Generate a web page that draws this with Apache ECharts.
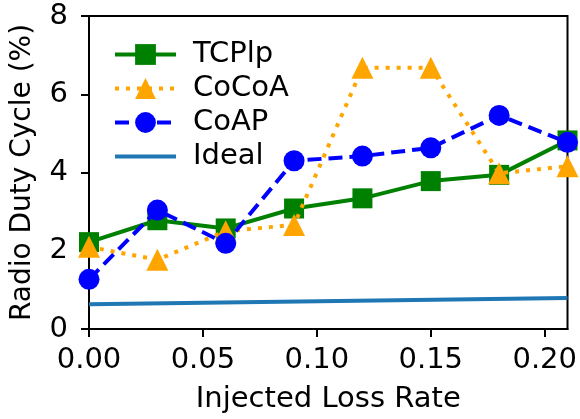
<!DOCTYPE html>
<html>
<head>
<meta charset="utf-8">
<script src="https://cdn.jsdelivr.net/npm/echarts@6/dist/echarts.min.js"></script>
<style>
  html, body { margin: 0; padding: 0; background: #fff; }
  #chart { width: 580px; height: 419px; }
</style>
</head>
<body>
<div id="chart"></div>
<script>
// injected loss rate
const lossRate = [0, 0.03, 0.06, 0.09, 0.12, 0.15, 0.18, 0.21];
const tcplp = [2.22, 2.78, 2.57, 3.08, 3.34, 3.78, 3.94, 4.82];
const cocoa = [2.1, 1.77, 2.5, 2.66, 6.68, 6.68, 3.98, 4.16];
const coap = [1.27, 3.04, 2.19, 4.3, 4.42, 4.63, 5.46, 4.77];
const idealX = [0, 0.21];
const ideal = [0.63, 0.79];
const xTicks = [0, 0.05, 0.1, 0.15, 0.2];

const pairs = (xs, ys) => xs.map((x, i) => [x, ys[i]]);
const font = "DejaVu Sans";

let chart = echarts.init(document.getElementById("chart"));
chart.setOption({
  animation: false,
  textStyle: { fontFamily: font },
  grid: {
    left: 89, right: 8, top: 16, bottom: 90,
    show: true, borderColor: "#000", borderWidth: 2
  },
  legend: {
    left: 113, top: 40, padding: 0,
    orient: "vertical",
    itemWidth: 61, itemHeight: 26, itemGap: 5,
    lineStyle: { width: 4 },
    textStyle: { fontSize: 29, lineHeight: 26, color: "#000", fontFamily: font, padding: [0, 0, 0, 12] },
    data: ["TCPlp", "CoCoA", "CoAP", { name: "Ideal", itemStyle: { opacity: 0 } }]
  },
  xAxis: {
    type: "value",
    min: 0, max: 0.21,
    name: "Injected Loss Rate",
    nameLocation: "middle",
    nameGap: 56,
    nameTextStyle: { fontSize: 29, color: "#000", fontFamily: font },
    axisLine: { show: true, lineStyle: { color: "#000", width: 2 } },
    axisTick: { show: true, length: 8, lineStyle: { color: "#000", width: 2 }, customValues: xTicks },
    axisLabel: {
      fontSize: 29, color: "#000", margin: 17, customValues: xTicks,
      formatter: v => v.toFixed(2)
    },
    splitLine: { show: false }
  },
  yAxis: {
    type: "value",
    min: 0, max: 8, interval: 2,
    name: "Radio Duty Cycle (%)",
    nameLocation: "middle",
    nameGap: 52,
    nameTextStyle: { fontSize: 28, color: "#000", fontFamily: font },
    axisLine: { show: true, lineStyle: { color: "#000", width: 2 } },
    axisTick: { show: true, length: 8, lineStyle: { color: "#000", width: 2 } },
    axisLabel: { fontSize: 29, color: "#000", margin: 21 },
    splitLine: { show: false }
  },
  series: [
    {
      name: "TCPlp",
      type: "line",
      data: pairs(lossRate, tcplp),
      symbol: "rect",
      symbolSize: 20,
      itemStyle: { color: "#008000" },
      lineStyle: { color: "#008000", width: 4 },
      z: 3
    },
    {
      name: "CoCoA",
      type: "line",
      data: pairs(lossRate, cocoa),
      symbol: "triangle",
      symbolSize: 22,
      itemStyle: { color: "#ffa500" },
      lineStyle: { color: "#ffa500", width: 4, type: [4, 7] },
      z: 4
    },
    {
      name: "CoAP",
      type: "line",
      data: pairs(lossRate, coap),
      symbol: "circle",
      symbolSize: 21,
      itemStyle: { color: "#0000ff" },
      lineStyle: { color: "#0000ff", width: 4, type: [14, 7] },
      z: 5
    },
    {
      name: "Ideal",
      type: "line",
      data: pairs(idealX, ideal),
      symbol: "none",
      itemStyle: { color: "#1f77b4" },
      lineStyle: { color: "#1f77b4", width: 4 },
      z: 2
    }
  ]
});
</script>
</body>
</html>
